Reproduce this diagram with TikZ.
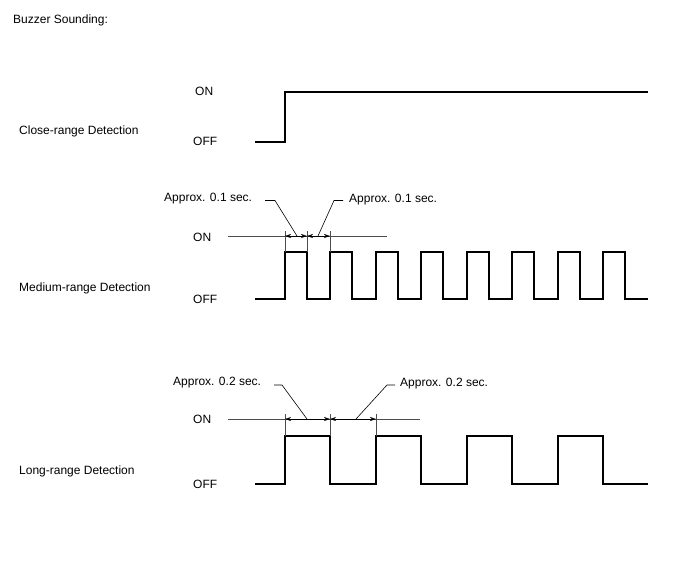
\documentclass[tikz,border=0pt]{standalone}
\usepackage{fontspec}
\setmainfont{Liberation Sans}
\usetikzlibrary{arrows.meta}
\begin{document}
\begin{tikzpicture}[x=1pt,y=-1pt,
  lbl/.style={inner sep=0pt,anchor=west,font=\fontsize{12}{14}\selectfont},
  sig/.style={line width=1.3pt,line join=miter},
  refl/.style={line width=0.5pt,black!70},
  dimarr/.style={line width=0.5pt,{Stealth[length=6pt,width=4pt]}-{Stealth[length=6pt,width=4pt]}},
  leader/.style={line width=0.6pt}]
\useasboundingbox (0,0) rectangle (688,560);
% title
\node[lbl] (title) at (13,20) {Buzzer Sounding:};
% ---- close range
\node[lbl] (cname) at (19,131) {Close-range Detection};
\node[lbl] (con) at (195,91) {ON};
\node[lbl] (coff) at (193,141) {OFF};
\draw[sig] (255,142) -- (285,142) -- (285,92) -- (648,92);
% ---- medium range
\node[lbl] (mname) at (19,288) {Medium-range Detection};
\node[lbl] (mon) at (193,237) {ON};
\node[lbl] (moff) at (193,299.5) {OFF};
\draw[sig] (255,299)
  -- (285,299) -- (285,252) -- (307,252) -- (307,299)
  -- (330,299) -- (330,252) -- (352,252) -- (352,299)
  -- (376,299) -- (376,252) -- (398,252) -- (398,299)
  -- (421,299) -- (421,252) -- (443,252) -- (443,299)
  -- (467,299) -- (467,252) -- (489,252) -- (489,299)
  -- (512,299) -- (512,252) -- (534,252) -- (534,299)
  -- (558,299) -- (558,252) -- (580,252) -- (580,299)
  -- (603,299) -- (603,252) -- (625,252) -- (625,299) -- (648,299);
\coordinate (m1) at (285,236); \coordinate (m2) at (307,236); \coordinate (m3) at (330,236);
\draw[refl] (228,236) -- (387,236);
\draw[refl] (285,231) -- (285,252);
\draw[refl] (307,231) -- (307,252);
\draw[refl] (330,231) -- (330,252);
\draw[dimarr] (m1) -- (m2);
\draw[dimarr] (m2) -- (m3);
\node[lbl] (ma1) at (164,199) {Approx. 0.1 sec.};
\node[lbl] (ma2) at (349,200) {Approx. 0.1 sec.};
\coordinate (mp1) at (297,236); \coordinate (mp2) at (318,236);
\draw[leader] (265,200.5) -- (275,200.5) -- (mp1);
\draw[leader] (343,200.5) -- (334,200.5) -- (mp2);
% ---- long range
\node[lbl] (lname) at (19,471) {Long-range Detection};
\node[lbl] (lon) at (193,419) {ON};
\node[lbl] (loff) at (193,484.5) {OFF};
\draw[sig] (255,484)
  -- (285,484) -- (285,436) -- (330,436) -- (330,484)
  -- (376,484) -- (376,436) -- (421,436) -- (421,484)
  -- (467,484) -- (467,436) -- (512,436) -- (512,484)
  -- (558,484) -- (558,436) -- (603,436) -- (603,484) -- (648,484);
\coordinate (l1) at (285,419); \coordinate (l2) at (330,419); \coordinate (l3) at (376,419);
\draw[refl] (228,419) -- (420,419);
\draw[refl] (285,414) -- (285,436);
\draw[refl] (330,414) -- (330,436);
\draw[refl] (376,414) -- (376,436);
\draw[dimarr] (l1) -- (l2);
\draw[dimarr] (l2) -- (l3);
\node[lbl] (la1) at (173,383) {Approx. 0.2 sec.};
\node[lbl] (la2) at (400,384) {Approx. 0.2 sec.};
\coordinate (lp1) at (307,419); \coordinate (lp2) at (356,419);
\draw[leader] (274,385) -- (282,385) -- (lp1);
\draw[leader] (395,385) -- (387,385) -- (lp2);
\end{tikzpicture}
\end{document}
